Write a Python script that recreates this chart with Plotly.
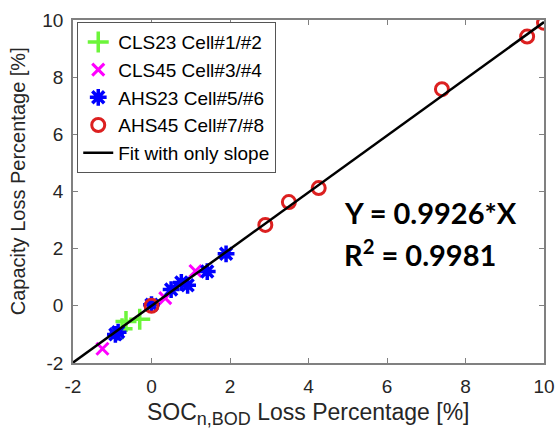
import plotly.graph_objects as go

# ---- data ----
cls23_x = [-0.75, -0.65, -0.3]
cls23_y = [-0.8, -0.55, -0.47]

cls45_x = [-1.25, 0.35, 1.12]
cls45_y = [-1.5, 0.27, 1.22]

ahs23_x = [-0.92, -0.85, 0.0, 0.5, 0.76, 0.92, 1.42, 1.9]
ahs23_y = [-1.0, -0.92, 0.04, 0.57, 0.82, 0.72, 1.2, 1.82]

ahs45_x = [0.0, 2.9, 3.5, 4.26, 7.4, 9.57, 10.0]
ahs45_y = [0.0, 2.83, 3.63, 4.12, 7.58, 9.42, 9.9]

fit_slope = 0.9926
fit_r2 = 0.9981
fit_x = [-2, 10]
fit_y = [fit_slope * v for v in fit_x]

legend_names = ["CLS23 Cell#1/#2", "CLS45 Cell#3/#4", "AHS23 Cell#5/#6",
                "AHS45 Cell#7/#8", "Fit with only slope"]
tick_vals = [-2, 0, 2, 4, 6, 8, 10]
tick_text = ["-2", "0", "2", "4", "6", "8", "10"]
x_title = "SOC<sub><span style=\"font-size:18px\">n,BOD</span></sub> Loss Percentage [%]"
y_title = "Capacity Loss Percentage [%]"

FONT = "Liberation Sans, Arial, sans-serif"
AXC = "#808080"
TXT = "#262626"

GREEN, MAGENTA, BLUE, RED = "#6cf53a", "#ff00ff", "#0000ff", "#dc2020"

fig = go.Figure()
fig.add_trace(go.Scatter(x=cls23_x, y=cls23_y, mode="markers", name=legend_names[0],
                         marker=dict(symbol="cross-thin-open", size=15, color=GREEN,
                                     line=dict(color=GREEN, width=3.5))))
fig.add_trace(go.Scatter(x=cls45_x, y=cls45_y, mode="markers", name=legend_names[1],
                         marker=dict(symbol="x-thin-open", size=12, color=MAGENTA,
                                     line=dict(color=MAGENTA, width=3))))
fig.add_trace(go.Scatter(x=ahs23_x, y=ahs23_y, mode="markers", name=legend_names[2],
                         marker=dict(symbol="asterisk-open", size=14, color=BLUE,
                                     line=dict(color=BLUE, width=3.5))))
fig.add_trace(go.Scatter(x=ahs45_x, y=ahs45_y, mode="markers", name=legend_names[3],
                         marker=dict(symbol="circle-open", size=13, color=RED,
                                     line=dict(color=RED, width=3))))
fig.add_trace(go.Scatter(x=fit_x, y=fit_y, mode="lines", name=legend_names[4],
                         line=dict(color="black", width=2.5)))

axis_common = dict(range=[-2, 10], tickvals=tick_vals, ticktext=tick_text,
                   ticks="inside", ticklen=5,
                   tickcolor=AXC, showline=True, linecolor=AXC, linewidth=1.5,
                   mirror="ticks", showgrid=False, zeroline=False,
                   tickfont=dict(family=FONT, size=19, color=TXT))

fig.update_xaxes(**axis_common, ticklabelstandoff=5)
fig.update_yaxes(**axis_common, ticklabelstandoff=4)

# axis titles as annotations for exact placement
fig.add_annotation(xref="paper", yref="paper", x=0.5, y=0, xanchor="center",
                   yanchor="middle", yshift=-51, showarrow=False, text=x_title,
                   font=dict(family=FONT, size=23, color=TXT))
fig.add_annotation(xref="paper", yref="paper", x=0, y=0.53, xanchor="center",
                   yanchor="middle", xshift=-55, textangle=-90, showarrow=False,
                   text=y_title, font=dict(family=FONT, size=20, color=TXT))

fig.add_annotation(xref="paper", yref="paper", x=0.571, y=0.44, xanchor="left",
                   yanchor="middle", showarrow=False, align="left",
                   text=f"<b>Y = {fit_slope}*X</b>",
                   font=dict(family="Lato, sans-serif", size=29, color="black"))
fig.add_annotation(xref="paper", yref="paper", x=0.571, y=0.322, xanchor="left",
                   yanchor="middle", showarrow=False, align="left",
                   text=f"<b>R<sup>2</sup> = {fit_r2}</b>",
                   font=dict(family="Lato, sans-serif", size=29, color="black"))

fig.update_layout(width=556, height=434, plot_bgcolor="white", paper_bgcolor="white",
                  margin=dict(l=73, r=12, t=20, b=71, autoexpand=False),
                  showlegend=True,
                  legend=dict(x=0.009, y=0.994, xanchor="left", yanchor="top",
                              bgcolor="white", bordercolor="#555555", borderwidth=1,
                              font=dict(family=FONT, size=19, color="black"),
                              itemwidth=30),
                  font=dict(family=FONT))

fig.write_html("out.html", config={"displayModeBar": False},
               post_script="document.body.style.margin='0';")
